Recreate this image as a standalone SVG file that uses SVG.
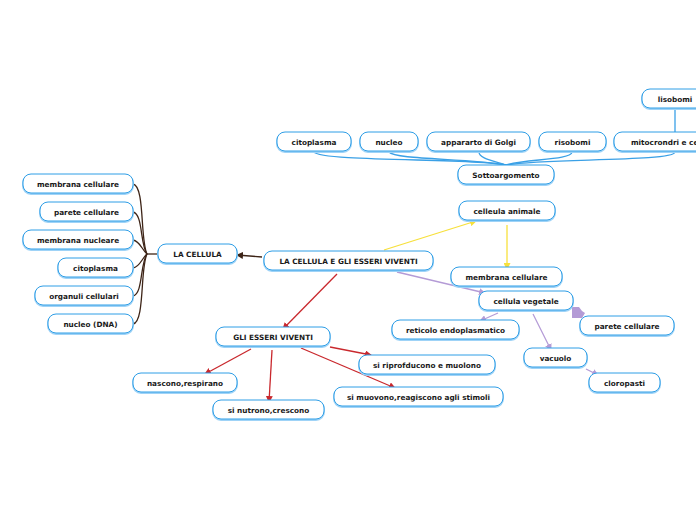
<svg xmlns="http://www.w3.org/2000/svg" width="696" height="520" viewBox="0 0 696 520">
<defs>
<style>
.n rect.s{fill:none;stroke:#9fd3f7;stroke-width:2}
.n rect.b{fill:#fff;stroke:#2f9ee6;stroke-width:1}
.n text{font-family:"DejaVu Sans",Verdana,sans-serif;font-weight:bold;font-size:7.3px;fill:#1a1a1a;text-anchor:middle}
.c path{fill:none}
.blue{stroke:#3aa0e6;stroke-width:1.3}
.brown{stroke:#3d2417;stroke-width:1.3}
.yel{stroke:#f7e03c;stroke-width:1.3}
.pur{stroke:#b49bd6;stroke-width:1.3}
.red{stroke:#c9282d;stroke-width:1.3}
</style>
<marker id="aY" markerWidth="7" markerHeight="7" refX="6" refY="3.5" orient="auto" markerUnits="userSpaceOnUse"><path d="M0,0 L7,3.5 L0,7 z" fill="#f7e03c"/></marker>
<marker id="aP" markerWidth="7" markerHeight="7" refX="6" refY="3.5" orient="auto" markerUnits="userSpaceOnUse"><path d="M0,0 L7,3.5 L0,7 z" fill="#b49bd6"/></marker>
<marker id="aR" markerWidth="7" markerHeight="7" refX="6" refY="3.5" orient="auto" markerUnits="userSpaceOnUse"><path d="M0,0 L7,3.5 L0,7 z" fill="#c9282d"/></marker>
<marker id="aB" markerWidth="7" markerHeight="7" refX="6" refY="3.5" orient="auto" markerUnits="userSpaceOnUse"><path d="M0,0 L7,3.5 L0,7 z" fill="#3d2417"/></marker>
</defs>
<rect width="696" height="520" fill="#fff"/>
<g id="connectors" class="c">
<path class="blue" d="M675,108 V132"/>
<path class="blue" d="M506,165 C480,158 320,162 314,152"/>
<path class="blue" d="M506,165 C470,158 395,160 389,152"/>
<path class="blue" d="M506,165 C490,160 479,158 479,152"/>
<path class="blue" d="M506,165 C525,159 572,160 572,152"/>
<path class="blue" d="M506,165 C540,158 675,162 675,152"/>
<path class="brown" d="M158,254 H147"/>
<path class="brown" d="M147,254 C140,240 145,186 133,184"/>
<path class="brown" d="M147,254 C140,244 143,214 133,212"/>
<path class="brown" d="M147,254 C142,250 140,241 133,240"/>
<path class="brown" d="M147,254 C142,258 140,267 133,268"/>
<path class="brown" d="M147,254 C140,264 143,294 133,296"/>
<path class="brown" d="M147,254 C140,268 145,322 133,324"/>
<path class="brown" d="M262,257 L237,255" marker-end="url(#aB)"/>
<path class="yel" d="M384,250 L476,221" marker-end="url(#aY)"/>
<path class="yel" d="M507,225 V269" marker-end="url(#aY)"/>
<path class="pur" d="M397,272 L485,293" marker-end="url(#aP)"/>
<path class="pur" d="M498,313 L480,321" marker-end="url(#aP)"/>
<path class="pur" d="M533,314 L551,350" marker-end="url(#aP)"/>
<path class="pur" d="M586,369 L598,375" marker-end="url(#aP)"/>
<polygon points="572,307 579,307 582,311 585,313 582,318 572,318" fill="#b49bd6"/>
<path class="red" d="M337,274 L283,329" marker-end="url(#aR)"/>
<path class="red" d="M251,349 L205,374" marker-end="url(#aR)"/>
<path class="red" d="M272,350 L269,402" marker-end="url(#aR)"/>
<path class="red" d="M301,348 L395,388" marker-end="url(#aR)"/>
<path class="red" d="M330,347 L371,355" marker-end="url(#aR)"/>
</g>
<g id="n_lisobomi" class="n"><rect class="s" x="642" y="90" width="70" height="19" rx="8"/><rect class="b" x="642" y="89" width="70" height="19" rx="8"/><text x="675" y="101.5">lisobomi</text></g>
<g id="n_citoplasma_top" class="n"><rect class="s" x="277" y="133" width="74" height="19" rx="8"/><rect class="b" x="277" y="132" width="74" height="19" rx="8"/><text x="314" y="144.5">citoplasma</text></g>
<g id="n_nucleo" class="n"><rect class="s" x="360" y="133" width="58" height="19" rx="8"/><rect class="b" x="360" y="132" width="58" height="19" rx="8"/><text x="389" y="144.5">nucleo</text></g>
<g id="n_golgi" class="n"><rect class="s" x="427" y="133" width="103" height="19" rx="8"/><rect class="b" x="427" y="132" width="103" height="19" rx="8"/><text x="478.5" y="144.5">appararto di Golgi</text></g>
<g id="n_risobomi" class="n"><rect class="s" x="539" y="133" width="67" height="19" rx="8"/><rect class="b" x="539" y="132" width="67" height="19" rx="8"/><text x="572.5" y="144.5">risobomi</text></g>
<g id="n_mitocondri" class="n"><rect class="s" x="614" y="133" width="110" height="19" rx="8"/><rect class="b" x="614" y="132" width="110" height="19" rx="8"/><text x="631" y="144.5" style="text-anchor:start">mitocrondri e ce</text></g>
<g id="n_sotto" class="n"><rect class="s" x="458" y="166" width="96" height="19" rx="8"/><rect class="b" x="458" y="165" width="96" height="19" rx="8"/><text x="506" y="177.5">Sottoargomento</text></g>
<g id="n_membrana_cell_l" class="n"><rect class="s" x="23" y="175" width="110" height="19" rx="8"/><rect class="b" x="23" y="174" width="110" height="19" rx="8"/><text x="78" y="186.5">membrana cellulare</text></g>
<g id="n_parete_l" class="n"><rect class="s" x="40" y="203" width="93" height="19" rx="8"/><rect class="b" x="40" y="202" width="93" height="19" rx="8"/><text x="86.5" y="214.5">parete cellulare</text></g>
<g id="n_membrana_nucl" class="n"><rect class="s" x="23" y="231" width="110" height="19" rx="8"/><rect class="b" x="23" y="230" width="110" height="19" rx="8"/><text x="78" y="242.5">membrana nucleare</text></g>
<g id="n_citoplasma_l" class="n"><rect class="s" x="58" y="259" width="75" height="19" rx="8"/><rect class="b" x="58" y="258" width="75" height="19" rx="8"/><text x="95.5" y="270.5">citoplasma</text></g>
<g id="n_organuli" class="n"><rect class="s" x="35" y="287" width="98" height="19" rx="8"/><rect class="b" x="35" y="286" width="98" height="19" rx="8"/><text x="84" y="298.5">organuli cellulari</text></g>
<g id="n_nucleo_dna" class="n"><rect class="s" x="48" y="315" width="85" height="19" rx="8"/><rect class="b" x="48" y="314" width="85" height="19" rx="8"/><text x="90.5" y="326.5">nucleo (DNA)</text></g>
<g id="n_la_cellula" class="n"><rect class="s" x="158" y="245" width="79" height="19" rx="8"/><rect class="b" x="158" y="244" width="79" height="19" rx="8"/><text x="197.5" y="256.5">LA CELLULA</text></g>
<g id="n_main" class="n"><rect class="s" x="264" y="252" width="169" height="19" rx="8"/><rect class="b" x="264" y="251" width="169" height="19" rx="8"/><text x="348.5" y="263.5">LA CELLULA E GLI ESSERI VIVENTI</text></g>
<g id="n_animale" class="n"><rect class="s" x="459" y="202" width="96" height="19" rx="8"/><rect class="b" x="459" y="201" width="96" height="19" rx="8"/><text x="507" y="213.5">celleula animale</text></g>
<g id="n_membrana_r" class="n"><rect class="s" x="451" y="268" width="111" height="19" rx="8"/><rect class="b" x="451" y="267" width="111" height="19" rx="8"/><text x="506.5" y="279.5">membrana cellulare</text></g>
<g id="n_vegetale" class="n"><rect class="s" x="479" y="292" width="94" height="19" rx="8"/><rect class="b" x="479" y="291" width="94" height="19" rx="8"/><text x="526" y="303.5">cellula vegetale</text></g>
<g id="n_parete_r" class="n"><rect class="s" x="580" y="317" width="94" height="19" rx="8"/><rect class="b" x="580" y="316" width="94" height="19" rx="8"/><text x="627" y="328.5">parete cellulare</text></g>
<g id="n_reticolo" class="n"><rect class="s" x="392" y="321" width="127" height="19" rx="8"/><rect class="b" x="392" y="320" width="127" height="19" rx="8"/><text x="455.5" y="332.5">reticolo endoplasmatico</text></g>
<g id="n_vacuolo" class="n"><rect class="s" x="524" y="349" width="63" height="19" rx="8"/><rect class="b" x="524" y="348" width="63" height="19" rx="8"/><text x="555.5" y="360.5">vacuolo</text></g>
<g id="n_cloropasti" class="n"><rect class="s" x="589" y="374" width="71" height="19" rx="8"/><rect class="b" x="589" y="373" width="71" height="19" rx="8"/><text x="624.5" y="385.5">cloropasti</text></g>
<g id="n_esseri" class="n"><rect class="s" x="216" y="328" width="114" height="19" rx="8"/><rect class="b" x="216" y="327" width="114" height="19" rx="8"/><text x="273" y="339.5">GLI ESSERI VIVENTI</text></g>
<g id="n_riprod" class="n"><rect class="s" x="359" y="356" width="136" height="19" rx="8"/><rect class="b" x="359" y="355" width="136" height="19" rx="8"/><text x="427" y="367.5">si riprofducono e muolono</text></g>
<g id="n_nascono" class="n"><rect class="s" x="133" y="374" width="104" height="19" rx="8"/><rect class="b" x="133" y="373" width="104" height="19" rx="8"/><text x="185" y="385.5">nascono,respirano</text></g>
<g id="n_muovono" class="n"><rect class="s" x="334" y="388" width="169" height="19" rx="8"/><rect class="b" x="334" y="387" width="169" height="19" rx="8"/><text x="418.5" y="399.5">si muovono,reagiscono agli stimoli</text></g>
<g id="n_nutrono" class="n"><rect class="s" x="213" y="401" width="111" height="19" rx="8"/><rect class="b" x="213" y="400" width="111" height="19" rx="8"/><text x="268.5" y="412.5">si nutrono,crescono</text></g>
</svg>
